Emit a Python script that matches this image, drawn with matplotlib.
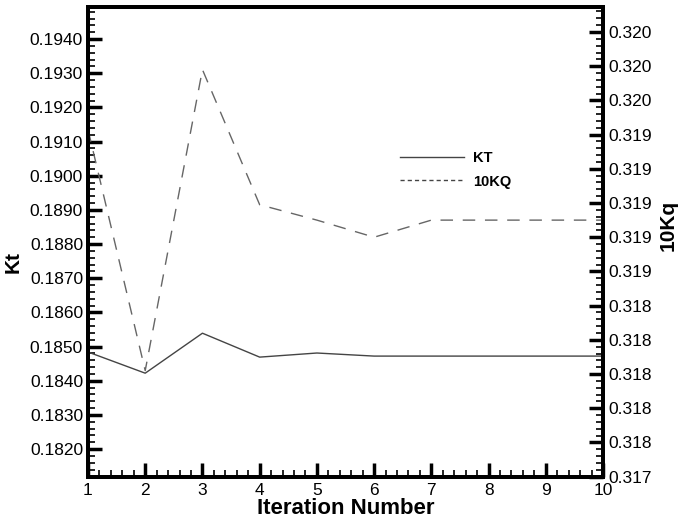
import numpy as np
import matplotlib.pyplot as plt
from matplotlib.ticker import FixedLocator, MultipleLocator, FormatStrFormatter
from matplotlib.lines import Line2D

plt.rcParams['font.family'] = ['Liberation Sans', 'DejaVu Sans']

iterations = [1, 2, 3, 4, 5, 6, 7, 8, 9, 10]
kt = [0.18484, 0.18422, 0.18539, 0.18469, 0.18481, 0.18472, 0.18472, 0.18472, 0.18472, 0.18472]
kq10 = [0.31943, 0.31802, 0.31978, 0.31899, 0.31890, 0.31880, 0.31890, 0.31890, 0.31890, 0.31890]

kt_ticks = np.arange(0.1820, 0.19401, 0.0010)
kq_ticks = np.arange(0.3174, 0.32001, 0.0002)

fig = plt.figure(figsize=(6.81, 5.19), dpi=100)
ax = fig.add_axes([0.1292, 0.0809, 0.7563, 0.9056])
ax2 = ax.twinx()

l1, = ax.plot(iterations, kt, color="#444444", lw=1.0)
l2, = ax2.plot(iterations, kq10, color="#666666", lw=1.0, dashes=(9, 7))

ax.set_xlim(1, 10)
ax.set_ylim(0.181181, 0.194937)
ax2.set_ylim(0.317398, 0.320146)

ax.xaxis.set_major_locator(MultipleLocator(1))
ax.xaxis.set_minor_locator(MultipleLocator(0.2))
ax.yaxis.set_major_locator(FixedLocator(kt_ticks))
ax.yaxis.set_minor_locator(MultipleLocator(0.0002))
ax.yaxis.set_major_formatter(FormatStrFormatter('%.4f'))
ax2.yaxis.set_major_locator(FixedLocator(kq_ticks))
ax2.yaxis.set_minor_locator(MultipleLocator(0.00004))
ax2.yaxis.set_major_formatter(FormatStrFormatter('%.3f'))

for a in (ax, ax2):
    for s in a.spines.values():
        s.set_linewidth(2.8)
    a.tick_params(which='major', direction='in', length=10, width=2.5, labelsize=12.5, colors='black')
    a.tick_params(which='minor', direction='in', length=5, width=1.2)
ax.tick_params(axis='x', which='both', top=False, pad=4)
ax.tick_params(axis='y', which='both', right=False)

ax.set_xlabel("Iteration Number", fontsize=16, fontweight='bold', labelpad=0)
ax.set_ylabel("Kt", fontsize=15, fontweight='bold')
ax.yaxis.set_label_coords(-0.126, 0.457)
ax2.set_ylabel("10Kq", fontsize=15, fontweight='bold', rotation=90)
ax2.yaxis.set_label_coords(1.108, 0.536)

h1 = Line2D([], [], color="#444444", lw=1.0)
h2 = Line2D([], [], color="#444444", lw=1.0, dashes=(3, 2.2))
ax.legend([h1, h2], ["KT", "10KQ"], loc='upper left', bbox_to_anchor=(0.58, 0.7215),
          frameon=False, handlelength=4.4, handletextpad=0.6, labelspacing=0.65,
          prop={'weight': 'bold', 'size': 10.5})

fig.savefig("out.png", dpi=100)
